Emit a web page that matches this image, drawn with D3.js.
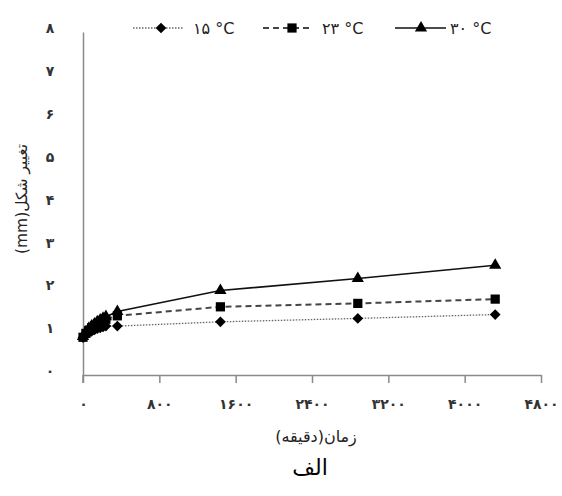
<!DOCTYPE html>
<html><head><meta charset="utf-8">
<script src="https://cdn.jsdelivr.net/npm/d3@7"></script>
<style>body{margin:0;background:#fff}svg{display:block}</style>
</head><body>
<script>
const times = [0, 30, 60, 90, 120, 150, 180, 210, 240, 360, 1440, 2880, 4320];
const t15 = [0.87, 0.93, 0.98, 1.02, 1.05, 1.08, 1.10, 1.12, 1.14, 1.14, 1.24, 1.32, 1.41];
const t23 = [0.88, 0.97, 1.04, 1.10, 1.15, 1.19, 1.23, 1.27, 1.30, 1.38, 1.59, 1.67, 1.77];
const t30 = [0.90, 1.00, 1.08, 1.14, 1.19, 1.24, 1.28, 1.32, 1.36, 1.48, 1.97, 2.25, 2.56];
const seriesNames = ["۱۵ °C", "۲۳ °C", "۳۰ °C"];
const xTicks = [0, 800, 1600, 2400, 3200, 4000, 4800];
const yTicks = [0, 1, 2, 3, 4, 5, 6, 7, 8];
const xTitle = "زمان(دقیقه)";
const yTitle = "تغییر شکل(mm)";
const caption = "الف";

const W = 562, H = 496;
const fa = n => String(n).replace(/\d/g, d => "۰۱۲۳۴۵۶۷۸۹"[d]);
const svg = d3.select("body").append("svg").attr("width", W).attr("height", H);
const font = "DejaVu Sans, sans-serif";

const x = d3.scaleLinear().domain([0, 4800]).range([83, 541]);
const y = d3.scaleLinear().domain([0, 8]).range([375, 32]);

// axes
const xa = svg.append("g").attr("transform", "translate(0,375)")
  .call(d3.axisBottom(x).tickValues(xTicks).tickFormat(fa).tickSize(8).tickSizeOuter(0).tickPadding(16));
const ya = svg.append("g").attr("transform", "translate(83,0)")
  .call(d3.axisLeft(y).tickValues(yTicks).tickFormat(fa).tickSize(0).tickPadding(30));
svg.append("line").attr("x1", 83).attr("x2", 83).attr("y1", 375).attr("y2", 383).attr("stroke", "#8a8a8a").attr("stroke-width", 1.5);
[xa, ya].forEach(g => {
  g.selectAll("path,line").attr("stroke", "#8a8a8a").attr("stroke-width", 1.5);
  g.selectAll("text").attr("font-family", font).attr("font-size", 14).attr("font-weight", "bold").attr("fill", "#333");
});
xa.selectAll("text").attr("letter-spacing", 3.5);
ya.selectAll("text").attr("dy", "0.05em").attr("text-anchor", "middle").attr("x", -33);

// titles
svg.append("text").attr("x", 316).attr("y", 442).attr("text-anchor", "middle")
  .attr("font-family", font).attr("font-size", 16).attr("fill", "#222").text(xTitle);
svg.append("text").attr("transform", "translate(27,199) rotate(-90)").attr("text-anchor", "middle")
  .attr("direction", "rtl")
  .attr("font-family", font).attr("font-size", 15.5).attr("fill", "#222").text(yTitle);
svg.append("text").attr("x", 310).attr("y", 475).attr("text-anchor", "middle")
  .attr("font-family", font).attr("font-size", 22).attr("fill", "#000").text(caption);

const diamond = {draw(ctx, size) { const r = Math.sqrt(size) / 2 * 1.3; ctx.moveTo(0, -r); ctx.lineTo(r, 0); ctx.lineTo(0, r); ctx.lineTo(-r, 0); ctx.closePath(); }};
const series = [
  {name: seriesNames[0], vals: t15, dash: "1.5,1.5", width: 1.3, color: "#666", sym: diamond, size: 68},
  {name: seriesNames[1], vals: t23, dash: "6,4", width: 2, color: "#444", sym: d3.symbolSquare, size: 85},
  {name: seriesNames[2], vals: t30, dash: null, width: 1.6, color: "#111", sym: d3.symbolTriangle, size: 65}
];
const line = d3.line().x(d => x(d[0])).y(d => y(d[1]));
series.forEach(s => {
  const pts = times.map((t, i) => [t, s.vals[i]]);
  svg.append("path").attr("d", line(pts)).attr("fill", "none").attr("stroke", s.color)
    .attr("stroke-width", s.width).attr("stroke-dasharray", s.dash);
  svg.append("g").selectAll("path").data(pts).join("path")
    .attr("transform", d => `translate(${x(d[0])},${y(d[1])})`)
    .attr("d", d3.symbol().type(s.sym).size(s.size)).attr("fill", "#000");
});

// legend
const leg = [
  {x1: 133, x2: 184, mx: 161, tx: 193},
  {x1: 263, x2: 312, mx: 292, tx: 322},
  {x1: 395, x2: 446, mx: 421, tx: 450}
];
series.forEach((s, i) => {
  const L = leg[i], ly = 28;
  svg.append("line").attr("x1", L.x1).attr("x2", L.x2).attr("y1", ly).attr("y2", ly)
    .attr("stroke", s.color).attr("stroke-width", s.width).attr("stroke-dasharray", s.dash);
  svg.append("path").attr("transform", `translate(${L.mx},${ly})`)
    .attr("d", d3.symbol().type(s.sym).size(s.size)).attr("fill", "#000");
  svg.append("text").attr("x", L.tx).attr("y", ly + 6).attr("font-family", font)
    .attr("font-size", 16).attr("fill", "#222").text(s.name);
});
</script>
</body></html>
